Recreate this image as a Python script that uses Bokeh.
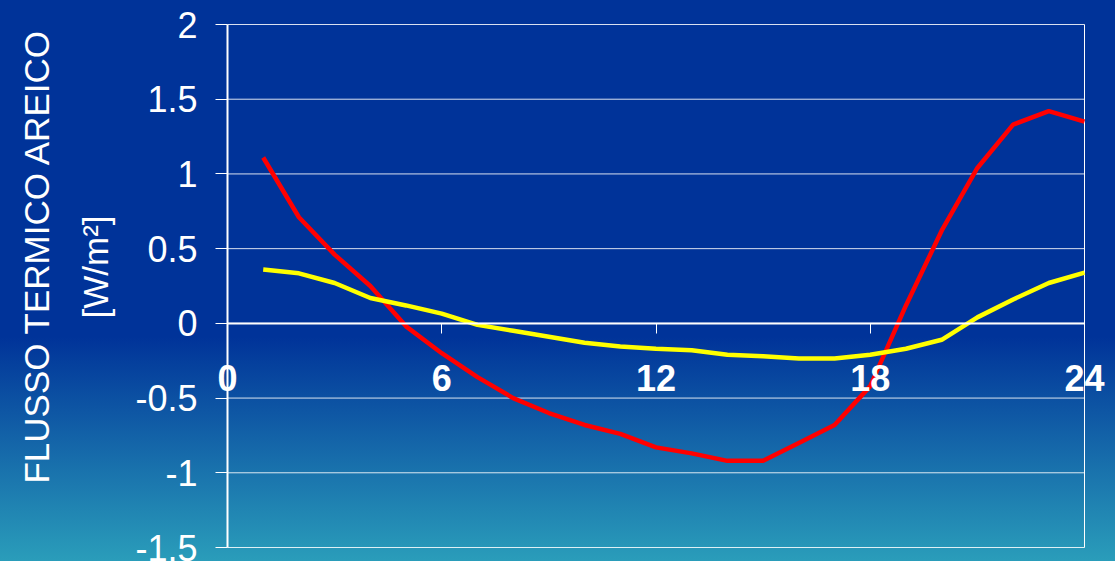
import math
from bokeh.plotting import figure
from bokeh.models import (Range1d, FixedTicker, LinearAxis, GlobalInlineStyleSheet, Label)
from bokeh.embed import file_html
from bokeh.resources import INLINE

hours = list(range(1, 25))
red_series = [1.11, 0.71, 0.46, 0.25, -0.02, -0.20, -0.36, -0.50, -0.60, -0.68, -0.74, -0.83,
              -0.87, -0.92, -0.92, -0.80, -0.68, -0.42, 0.12, 0.62, 1.04, 1.33, 1.42, 1.35]
yellow_series = [0.36, 0.335, 0.27, 0.17, 0.12, 0.065, -0.01, -0.05, -0.09, -0.13, -0.155, -0.17,
                 -0.18, -0.21, -0.22, -0.235, -0.235, -0.21, -0.17, -0.11, 0.04, 0.16, 0.27, 0.34]
x_ticks = [0, 6, 12, 18, 24]
x_tick_labels = ["0", "6", "12", "18", "24"]
y_ticks = [-1.5, -1.0, -0.5, 0.0, 0.5, 1.0, 1.5, 2.0]
y_tick_labels = ["-1.5", "-1", "-0.5", "0", "0.5", "1", "1.5", "2"]
y_title_1 = "FLUSSO TERMICO AREICO"
y_title_2 = "[W/m²]"

FONT = "Liberation Sans"
W, H = 1115, 561
FL, FR, FT, FB = 227, 1084, 24, 547   # plot-box edges in pixels
X0, X1 = x_ticks[0], x_ticks[-1]
Y0, Y1 = y_ticks[0], y_ticks[-1]
sx = (FR - FL) / (X1 - X0)
sy = (FB - FT) / (Y1 - Y0)

css = GlobalInlineStyleSheet(css="""
html { height: 100%; background: linear-gradient(to bottom, #003399 0%, #003399 60%, #2a9dba 100%) no-repeat; }
body { background: transparent; }
""")

# the frame covers the whole canvas so that nothing gets clipped
p = figure(width=W, height=H, output_backend="svg", toolbar_location=None,
           x_range=Range1d(X0 - FL / sx, X1 + (W - FR) / sx),
           y_range=Range1d(Y0 - (H - FB) / sy, Y1 + FT / sy),
           min_border=0, x_axis_location=None, y_axis_location=None)
p.stylesheets = [css]
p.background_fill_color = None
p.border_fill_color = None
p.outline_line_color = None
p.xgrid.visible = False
p.ygrid.visible = False

# horizontal grid lines and right border
p.segment(x0=[X0] * len(y_ticks), x1=[X1] * len(y_ticks), y0=y_ticks, y1=y_ticks,
          line_color="white", line_alpha=0.85, line_width=1)
p.segment(x0=[X1], x1=[X1], y0=[Y0], y1=[Y1], line_color="white", line_width=1)

# x axis at y = 0
xa = LinearAxis(ticker=FixedTicker(ticks=x_ticks), fixed_location=0, bounds=(X0, X1))
xa.axis_line_color = "white"
xa.axis_line_width = 2
xa.major_tick_line_color = "white"
xa.major_tick_line_width = 1
xa.major_tick_in = 0
xa.major_tick_out = 10
xa.minor_tick_line_color = None
xa.major_label_text_color = None
p.add_layout(xa, "below")

for xv, txt in zip(x_ticks, x_tick_labels):
    p.add_layout(Label(x=xv, y=0, text=txt, y_offset=-55,
                       text_align="center", text_baseline="middle",
                       text_color="white", text_font=FONT, text_font_style="bold",
                       text_font_size="36px"))

# y axis at x = 0
ya = LinearAxis(ticker=FixedTicker(ticks=y_ticks), fixed_location=0, bounds=(Y0, Y1),
                major_label_overrides=dict(zip(y_ticks, y_tick_labels)))
ya.axis_line_color = "white"
ya.axis_line_width = 2
ya.major_tick_line_color = "white"
ya.major_tick_in = 0
ya.major_tick_out = 12
ya.minor_tick_line_color = None
ya.major_label_text_color = "white"
ya.major_label_text_font = FONT
ya.major_label_text_font_size = "36px"
ya.major_label_standoff = 18
p.add_layout(ya, "left")

# y axis title, two lines
ymid = (Y0 + Y1) / 2
p.add_layout(Label(x=X0, y=ymid, x_offset=-191, y_offset=30, text=y_title_1, angle=math.pi / 2,
                   text_align="center", text_baseline="middle", text_color="white",
                   text_font=FONT, text_font_size="35px"))
p.add_layout(Label(x=X0, y=ymid, x_offset=-132, y_offset=19, text=y_title_2, angle=math.pi / 2,
                   text_align="center", text_baseline="middle", text_color="white",
                   text_font=FONT, text_font_size="35px"))

p.line(hours, red_series, line_color="#ff0000", line_width=4.5)
p.line(hours, yellow_series, line_color="#ffff00", line_width=4.5)

open("out.html", "w").write(file_html(p, INLINE))
